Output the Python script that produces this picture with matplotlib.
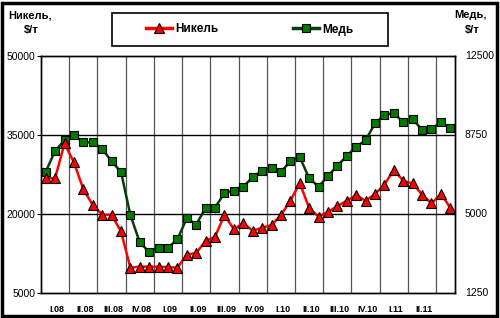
import matplotlib
matplotlib.use("Agg")
import matplotlib.pyplot as plt
from matplotlib.patches import Rectangle
from matplotlib.lines import Line2D

quarters = ["I.08", "II.08", "III.08", "IV.08", "I.09", "II.09", "III.09",
            "IV.09", "I.10", "II.10", "III.10", "IV.10", "I.11", "II.11"]

nickel = [26800, 26800, 33400, 29800, 24700, 21700, 19900, 19800, 16700,
          9800, 10000, 10000, 10000, 9900, 9800, 12300, 12600, 14900, 15700,
          19800, 17100, 18300, 16800, 17400, 17900, 19800, 22500, 25900,
          21100, 19500, 20400, 21500, 22500, 23600, 22500, 23800, 25600,
          28400, 26300, 25800, 23700, 22000, 23800, 21200]

copper = [7000, 8000, 8500, 8750, 8400, 8400, 8100, 7500, 7000, 4950, 3650,
          3200, 3400, 3400, 3800, 4800, 4500, 5300, 5300, 6000, 6100, 6300,
          6750, 7050, 7200, 7000, 7500, 7700, 6700, 6300, 6800, 7300, 7750,
          8200, 8500, 9300, 9700, 9800, 9350, 9500, 9000, 9050, 9350, 9100]

left_ticks = [5000, 20000, 35000, 50000]
right_ticks = [1250, 5000, 8750, 12500]

fig = plt.figure(figsize=(5.0, 3.18), dpi=100)
plt.rcParams['font.family'] = ['Liberation Sans', 'DejaVu Sans']

ax = fig.add_axes([41/500, 1-293/318, 414/500, 237/318])
ax2 = ax.twinx()

n = len(nickel)
x = list(range(n))

ax.set_xlim(-0.5, n - 0.5)
ax.set_ylim(5000, 50000)
ax2.set_ylim(1250, 12500)

# grid
for k in range(1, n // 3 + 1):
    ax.axvline(-0.5 + 3*k, color="#555555", lw=0.9, zorder=1)
for v in left_ticks[1:-1]:
    ax.axhline(v, color="black", lw=1.0, zorder=1)

ax2.plot(x, [c*4 for c in copper], visible=False)
ax.plot(x, [c*4 for c in copper], color="#0a3d0a", lw=1.8, marker="s",
        markersize=5.5, markerfacecolor="#007a00", markeredgecolor="black",
        markeredgewidth=0.8, zorder=3)
ax.plot(x, nickel, color="#ff0000", lw=1.8, marker="^", markersize=6.5,
        markerfacecolor="#ff0000", markeredgecolor="black",
        markeredgewidth=0.8, zorder=4)

ax.set_yticks(left_ticks)
ax.set_yticklabels([str(v) for v in left_ticks], fontsize=7.5)
ax.tick_params(axis="y", length=3, width=0.8, pad=1)
ax2.set_yticks(right_ticks)
ax2.set_yticklabels([str(v) for v in right_ticks], fontsize=7.5)
ax2.tick_params(axis="y", length=0, pad=7)
for lbl in ax2.get_yticklabels():
    lbl.set_va("bottom")
    lbl.set_y(lbl.get_position()[1])
ax2.set_yticks(right_ticks)
ax2.set_yticklabels([str(v) for v in right_ticks], fontsize=7.5, va="center")

ax.set_xticks([])
for i, q in enumerate(quarters):
    ax.text(1.2 + 3*i, -0.05, q, transform=ax.get_xaxis_transform(),
            ha="center", va="top", fontsize=6.5, fontweight="bold")

for a in (ax, ax2):
    for s in a.spines.values():
        s.set_linewidth(1.0)
        s.set_color("black")

# axis titles
fig.text(8/500, 1-10/318, "Никель,", ha="left", va="top", fontsize=8,
         fontweight="bold")
fig.text(31/500, 1-25/318, "$/т", ha="center", va="top", fontsize=8,
         fontweight="bold")
fig.text(487/500, 1-10/318, "Медь,", ha="right", va="top", fontsize=8,
         fontweight="bold")
fig.text(472/500, 1-25/318, "$/т", ha="center", va="top", fontsize=8,
         fontweight="bold")

# legend box
fig.patches.append(Rectangle((112/500, 1-46/318), 276/500, 33/318,
                             transform=fig.transFigure, fill=True,
                             facecolor="white", edgecolor="black", lw=1.2,
                             zorder=5))
handles = [Line2D([0], [0], color="#ff0000", lw=2.5, marker="^", markersize=6.5,
                  markerfacecolor="#ff0000", markeredgecolor="black",
                  markeredgewidth=0.8),
           Line2D([0], [0], color="#0a3d0a", lw=2.5, marker="s", markersize=5.5,
                  markerfacecolor="#007a00", markeredgecolor="black",
                  markeredgewidth=0.8)]
leg = fig.legend(handles, ["Никель", "Медь"], loc="center",
                 bbox_to_anchor=(250/500, 1-29.5/318), ncol=2,
                 prop={"size": 8.5, "weight": "bold"}, frameon=False,
                 handlelength=2.2, handletextpad=0.3,
                 columnspacing=6.3, borderpad=0.2)
leg.set_zorder(6)

# outer border
fig.patches.append(Rectangle((2/500, 2/318), 495/500, 313/318,
                             transform=fig.transFigure, fill=False,
                             edgecolor="black", lw=2.5))

fig.savefig("out.png", dpi=100)
